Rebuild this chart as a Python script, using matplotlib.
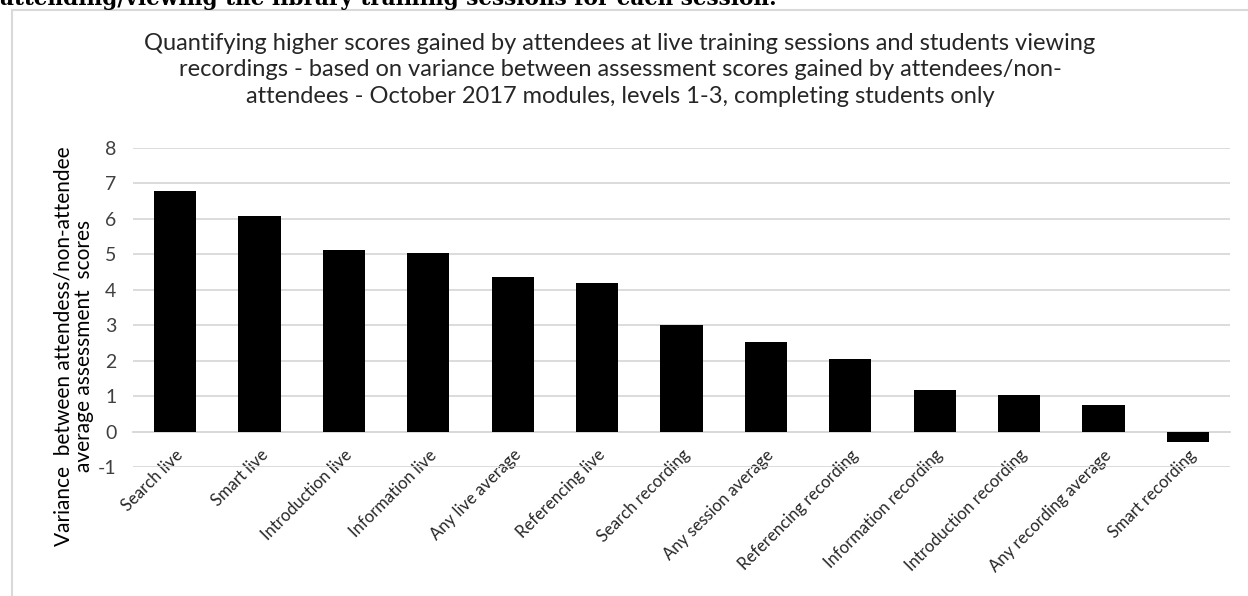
import numpy as np
import matplotlib
matplotlib.use("Agg")
import matplotlib.pyplot as plt
from matplotlib.patches import Rectangle

# Dati del grafico
sessioni = ["Search live", "Smart live", "Introduction live", "Information live",
            "Any live average", "Referencing live", "Search recording",
            "Any session average", "Referencing recording", "Information recording",
            "Introduction recording", "Any recording average", "Smart recording"]
varianza = [6.78, 6.09, 5.11, 5.03, 4.35, 4.19, 3.01, 2.52, 2.06, 1.18, 1.03, 0.76, -0.30]
y_ticks = list(range(-1, 9))

titolo = ("Quantifying higher scores gained by attendees at live training sessions and students viewing\n"
          "recordings - based on variance between assessment scores gained by attendees/non-\n"
          "attendees - October 2017 modules, levels 1-3, completing students only")
etichetta_y = "Variance  between attendess/non-attendee\naverage assessment  scores"
testo_sopra = "attending/viewing the library training sessions for each session."

plt.rcParams["font.family"] = ["Lato", "DejaVu Sans"]
plt.rcParams["axes.unicode_minus"] = False

fig = plt.figure(figsize=(12.48, 5.96), dpi=100)
ax = fig.add_axes([133/1248, 1 - 467/596, 1097/1248, 319/596])

x = np.arange(len(sessioni))
ax.bar(x, varianza, width=0.5, color="black", zorder=3)

ax.set_xlim(-0.5, len(sessioni) - 0.5)
ax.set_ylim(-1, 8)
ax.set_yticks(y_ticks)
ax.tick_params(axis="y", length=0, labelsize=14, labelcolor="#404040", pad=12)
ax.grid(axis="y", color="#d9d9d9", linewidth=1.3, zorder=0)

# asse x sullo zero
for s in ["top", "right", "left"]:
    ax.spines[s].set_visible(False)
ax.spines["bottom"].set_position(("data", 0))
ax.spines["bottom"].set_color("#d9d9d9")
ax.spines["bottom"].set_linewidth(1.3)
ax.set_xticks(x)
ax.set_xticklabels(sessioni, rotation=45, ha="right", rotation_mode="anchor",
                   fontsize=12, color="#262626")
ax.tick_params(axis="x", length=0, pad=11)

ax.set_ylabel(etichetta_y, fontsize=15, color="black", linespacing=1.0)
ax.yaxis.set_label_coords(-0.036, 0.379)

fig.text(620/1248, 1 - 70/596, titolo, ha="center", va="center", fontsize=17,
         color="#262626", linespacing=1.32)

# testo tagliato in alto (come nel documento originale)
fig.text(0.0, 1 - 5/596, testo_sopra, ha="left", va="baseline", fontsize=15.6,
         fontweight="bold", family="DejaVu Serif", color="black")

# cornice del grafico
fig.patches.append(Rectangle((12/1248, -0.1), 1.2, 1 - 9.5/596 + 0.1,
                             transform=fig.transFigure, fill=False,
                             edgecolor="#d9d9d9", linewidth=1.5))

fig.savefig("out.png", dpi=100)
